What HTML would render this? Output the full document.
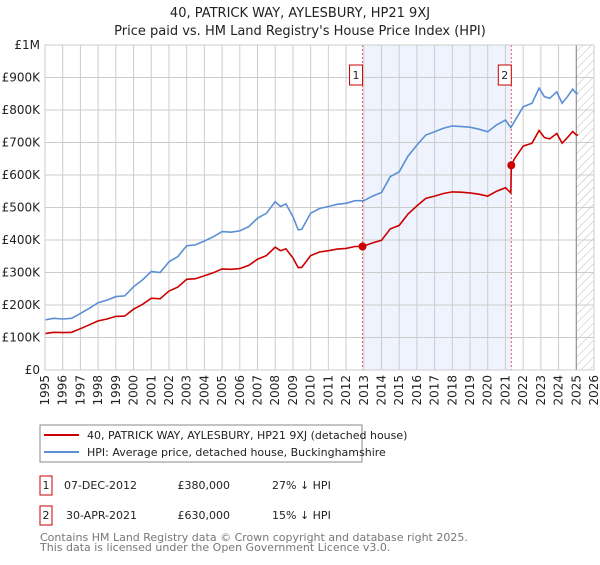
<!DOCTYPE html>
<html><head><meta charset="utf-8"><style>
body{margin:0;background:#fff;font-family:"Liberation Sans","DejaVu Sans",sans-serif;}
svg text{font-family:"DejaVu Sans","Liberation Sans",sans-serif;}
</style></head><body>
<svg id="c" width="600" height="560" viewBox="0 0 600 560" xmlns="http://www.w3.org/2000/svg">
<defs><pattern id="hatch" width="6" height="6" patternUnits="userSpaceOnUse" patternTransform="rotate(45)"><line x1="0" y1="0" x2="0" y2="6" stroke="#bbb" stroke-width="1"/></pattern></defs>
<text x="300" y="17" text-anchor="middle" font-size="13" fill="#222">40, PATRICK WAY, AYLESBURY, HP21 9XJ</text>
<text x="300" y="35" text-anchor="middle" font-size="13" fill="#222">Price paid vs. HM Land Registry's House Price Index (HPI)</text>
<g id="plot"></g>
<g>
<rect x="40" y="425" width="322" height="37" fill="#fff" stroke="#888"/>
<line x1="44" y1="435" x2="79" y2="435" stroke="#cc0000" stroke-width="2"/>
<text x="87" y="439" font-size="11" fill="#222">40, PATRICK WAY, AYLESBURY, HP21 9XJ (detached house)</text>
<line x1="44" y1="452" x2="79" y2="452" stroke="#5b8fd4" stroke-width="2"/>
<text x="87" y="456" font-size="11" fill="#222">HPI: Average price, detached house, Buckinghamshire</text>
</g>
<g font-size="11" fill="#222">
<rect x="40" y="476" width="12" height="19" fill="#fff" stroke="#cc0000"/>
<text x="46" y="489" text-anchor="middle">1</text>
<text x="137" y="489" text-anchor="end">07-DEC-2012</text>
<text x="230" y="489" text-anchor="end">£380,000</text>
<text x="272" y="489">27% ↓ HPI</text>
<rect x="40" y="506" width="12" height="19" fill="#fff" stroke="#cc0000"/>
<text x="46" y="519" text-anchor="middle">2</text>
<text x="137" y="519" text-anchor="end">30-APR-2021</text>
<text x="230" y="519" text-anchor="end">£630,000</text>
<text x="272" y="519">15% ↓ HPI</text>
</g>
<text x="40" y="541" font-size="11" fill="#777">Contains HM Land Registry data © Crown copyright and database right 2025.</text>
<text x="40" y="551" font-size="11" fill="#777">This data is licensed under the Open Government Licence v3.0.</text>
</svg>
<script>
const hpiDates=[1995,1995.5,1996,1996.5,1997,1997.5,1998,1998.5,1999,1999.5,2000,2000.5,2001,2001.5,2002,2002.5,2003,2003.5,2004,2004.5,2005,2005.5,2006,2006.5,2007,2007.5,2008,2008.3,2008.6,2009,2009.3,2009.5,2010,2010.5,2011,2011.5,2012,2012.5,2013,2013.5,2014,2014.5,2015,2015.5,2016,2016.5,2017,2017.5,2018,2018.5,2019,2019.5,2020,2020.5,2021,2021.3,2021.5,2022,2022.5,2022.9,2023.2,2023.5,2023.9,2024.2,2024.5,2024.8,2025,2025.1];
const hpiValues=[154,159,157,159,174,190,207,215,226,228,256,277,303,300,333,349,382,385,397,410,426,424,428,441,467,482,518,503,511,472,431,433,482,497,503,510,513,521,521,535,546,595,610,658,692,723,733,744,751,749,747,741,733,754,769,746,764,810,821,867,841,836,856,821,841,864,851,851];
const priceDates=[1995,1995.5,1996,1996.5,1997,1997.5,1998,1998.5,1999,1999.5,2000,2000.5,2001,2001.5,2002,2002.5,2003,2003.5,2004,2004.5,2005,2005.5,2006,2006.5,2007,2007.5,2008,2008.3,2008.6,2009,2009.3,2009.5,2010,2010.5,2011,2011.5,2012,2012.5,2012.93,2013.5,2014,2014.5,2015,2015.5,2016,2016.5,2017,2017.5,2018,2018.5,2019,2019.5,2020,2020.5,2021,2021.3,2021.33,2021.5,2022,2022.5,2022.9,2023.2,2023.5,2023.9,2024.2,2024.5,2024.8,2025,2025.1];
const priceValues=[112,116,115,116,127,139,151,157,165,166,187,202,221,219,243,255,279,281,290,299,311,310,312,322,341,352,378,367,373,345,315,316,352,363,367,372,374,380,380,391,399,434,445,480,505,528,535,543,548,547,545,541,535,550,561,545,630,649,689,698,737,715,711,728,698,715,734,723,723];
const saleDates=[2012.93,2021.33];
const saleValues=[380,630];
const saleLabels=["1","2"];
const yTicks=[0,100,200,300,400,500,600,700,800,900,1000];
const yTickLabels=["£0","£100K","£200K","£300K","£400K","£500K","£600K","£700K","£800K","£900K","£1M"];
const xYears=[];for(let y=1995;y<=2026;y++)xYears.push(y);
const X0=45,X1=594,Y0=370,Y1=45;
const xs=d=>X0+(d-1995)/(2026-1995)*(X1-X0);
const ys=v=>Y0-v/1000*(Y0-Y1);
const NS="http://www.w3.org/2000/svg";
const g=document.getElementById('plot');
function mk(t,a,p){const e=document.createElementNS(NS,t);for(const k in a)e.setAttribute(k,a[k]);(p||g).appendChild(e);return e;}
const shade=mk('rect',{x:xs(saleDates[0]),y:Y1,width:xs(saleDates[1])-xs(saleDates[0]),height:Y0-Y1,fill:'#eef3fd'});


const hatch=mk('rect',{x:xs(2025.0),y:Y1,width:X1-xs(2025.0),height:Y0-Y1,fill:'url(#hatch)'});


yTicks.forEach((v,i)=>{
 const l=mk('line',{x1:X0,x2:X1,y1:ys(v),y2:ys(v),stroke:'#ccc','stroke-width':1});
 
 
 const t=mk('text',{x:40,y:ys(v)+4,'text-anchor':'end','font-size':12,fill:'#222'});
 t.textContent=yTickLabels[i];
 
 
});
xYears.forEach(y=>{
 const l=mk('line',{x1:xs(y),x2:xs(y),y1:Y1,y2:Y0,stroke:'#ccc','stroke-width':1});
 
 
 const t=mk('text',{x:0,y:0,'text-anchor':'end','font-size':12,fill:'#222',transform:`translate(${xs(y)+4},375) rotate(-90)`});
 t.textContent=y;
 
 
});
const nowLine=mk('line',{x1:xs(2025.0),x2:xs(2025.0),y1:Y1,y2:Y0,stroke:'#888','stroke-width':1});


saleDates.forEach((d,i)=>{
 const l=mk('line',{x1:xs(d),x2:xs(d),y1:Y1,y2:Y0,stroke:'#ee5555','stroke-width':1,'stroke-dasharray':'2,2'});
 
 
 const b=mk('rect',{x:xs(d)-13,y:65,width:13,height:20,fill:'#fff',stroke:'#cc0000'});
 
 
 const t=mk('text',{x:xs(d)-6.5,y:79,'text-anchor':'middle','font-size':11,fill:'#222'});
 t.textContent=saleLabels[i];
 
 
});
const hp=mk('path',{d:hpiDates.map((d,i)=>(i?'L':'M')+xs(d).toFixed(1)+','+ys(hpiValues[i]).toFixed(1)).join(''),fill:'none',stroke:'#5b8fd4','stroke-width':1.6});


const pp=mk('path',{d:priceDates.map((d,i)=>(i?'L':'M')+xs(d).toFixed(1)+','+ys(priceValues[i]).toFixed(1)).join(''),fill:'none',stroke:'#cc0000','stroke-width':1.6});


saleDates.forEach((d,i)=>{
 const c=mk('circle',{cx:xs(d),cy:ys(saleValues[i]),r:4,fill:'#cc0000'});
 
 
});
const border=mk('rect',{x:X0,y:Y1,width:X1-X0,height:Y0-Y1,fill:'none',stroke:'#ccc'});


</script>
</body></html>
